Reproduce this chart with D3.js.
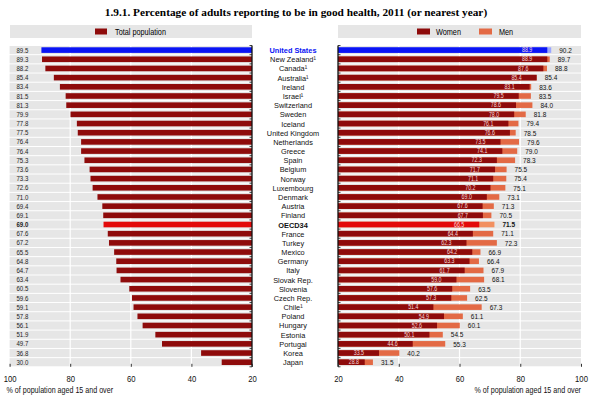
<!DOCTYPE html>
<html>
<head>
<meta charset="utf-8">
<script src="https://cdn.jsdelivr.net/npm/d3@7"></script>
<style>
  body { margin: 0; background: #fff; }
  svg text { font-family: "Liberation Sans", Arial, sans-serif; }
  svg text.title { font-family: "Liberation Serif", "DejaVu Serif", serif; font-weight: bold; }
</style>
</head>
<body>
<script>
// ----- data -----
const countries = ["United States","New Zealand¹","Canada¹","Australia¹","Ireland","Israel¹","Switzerland","Sweden","Iceland","United Kingdom",
  "Netherlands","Greece","Spain","Belgium","Norway","Luxembourg","Denmark","Austria","Finland","OECD34",
  "France","Turkey","Mexico","Germany","Italy","Slovak Rep.","Slovenia","Czech Rep.","Chile¹","Poland",
  "Hungary","Estonia","Portugal","Korea","Japan"];

const totalPop = [89.5,89.3,88.2,85.4,83.4,81.5,81.3,79.9,77.8,77.5,
  76.4,76.4,75.3,73.6,73.3,72.6,71.0,69.4,69.1,69.0,
  67.6,67.2,65.5,64.8,64.7,63.4,60.5,59.6,59.1,57.8,
  56.1,51.9,49.7,36.8,30.0];

const women = [88.9,88.9,87.6,85.4,83.1,79.5,78.6,78.0,76.1,76.6,
  73.5,74.1,72.3,71.7,71.1,70.2,69.0,67.6,67.7,66.5,
  64.4,62.3,64.2,63.3,61.7,59.0,57.6,57.3,51.4,54.9,
  52.6,50.1,44.6,33.5,28.8];

const men = [90.2,89.7,88.8,85.4,83.6,83.5,84.0,81.8,79.4,78.5,
  79.6,79.0,78.3,75.5,75.4,75.1,73.1,71.3,70.5,71.5,
  71.1,72.3,66.9,66.4,67.9,68.1,63.5,62.5,67.3,61.1,
  60.1,54.5,55.3,40.2,31.5];

const xTicks = [100, 80, 60, 40, 20];
const highlightCountry = "United States";
const averageCountry = "OECD34";

const width = 591, height = 398;
const squeeze = 0.81;   // narrow the sans font to look like a condensed face

const data = countries.map((c, i) => ({ name: c, total: totalPop[i], women: women[i], men: men[i] }));

// colours
const darkRed = "#8e0b0b", menColor = "#e36a45";
function womenFill(d) {
    if (d.name === highlightCountry) return "#0a14f5";
    if (d.name === averageCountry) return "#e30a0a";
    return darkRed;
}
function menFill(d) {
    if (d.name === highlightCountry) return "#9aa6ff";
    if (d.name === averageCountry) return "#f29060";
    return menColor;
}

// put a text at (x,y) squeezed horizontally
function at(x, y, s) {
    return "translate(" + x + "," + y + ") scale(" + (s || squeeze) + ",1)";
}

const svg = d3.select("body").append("svg")
    .attr("width", width)
    .attr("height", height);

// scales
const y = d3.scaleBand().domain(countries).range([45.5, 366.8]).paddingInner(0);
const xLeft = d3.scaleLinear().domain([100, 20]).range([9.6, 252]);
const xRight = d3.scaleLinear().domain([20, 100]).range([338, 581]);

// title
svg.append("text")
    .attr("class", "title")
    .attr("x", 296)
    .attr("y", 16)
    .attr("text-anchor", "middle")
    .style("font-size", "11.3px")
    .text("1.9.1.  Percentage of adults reporting to be in good health, 2011 (or nearest year)");

// ----- legends -----
svg.append("rect").attr("x", 10).attr("y", 25).attr("width", 242).attr("height", 13).attr("fill", "#e6e6e6");
svg.append("rect").attr("x", 95).attr("y", 28.5).attr("width", 12).attr("height", 6).attr("fill", darkRed);
svg.append("text").attr("transform", at(115, 34.8)).style("font-size", "9px").text("Total population");

svg.append("rect").attr("x", 338).attr("y", 25).attr("width", 243).attr("height", 13).attr("fill", "#e6e6e6");
svg.append("rect").attr("x", 417).attr("y", 28.5).attr("width", 13).attr("height", 6).attr("fill", darkRed);
svg.append("text").attr("transform", at(436, 34.8)).style("font-size", "9px").text("Women");
svg.append("rect").attr("x", 479).attr("y", 28.5).attr("width", 13).attr("height", 6).attr("fill", menColor);
svg.append("text").attr("transform", at(499, 34.8)).style("font-size", "9px").text("Men");

// ----- row stripes and gridlines -----
function panelBackground(g, x) {
    const [a, b] = x.range();
    g.selectAll(".stripe")
        .data(data)
        .enter()
        .append("rect")
        .attr("class", "stripe")
        .attr("x", Math.min(a, b))
        .attr("y", d => y(d.name) + 0.5)
        .attr("width", Math.abs(b - a))
        .attr("height", y.bandwidth() - 1)
        .attr("fill", "#e6e6e6");

    g.selectAll(".grid")
        .data([80, 60, 40])
        .enter()
        .append("line")
        .attr("x1", d => x(d)).attr("x2", d => x(d))
        .attr("y1", y.range()[0]).attr("y2", y.range()[1])
        .attr("stroke", "#fff")
        .attr("stroke-width", 1.2);
}

const left = svg.append("g");
const right = svg.append("g");
panelBackground(left, xLeft);
panelBackground(right, xRight);

const barH = 5.6;
const barOff = (y.bandwidth() - barH) / 2;
const mid = d => y(d.name) + y.bandwidth() / 2;

// ----- left panel: total population -----
left.selectAll(".totBar")
    .data(data)
    .enter()
    .append("rect")
    .attr("class", "totBar")
    .attr("x", d => xLeft(d.total))
    .attr("y", d => y(d.name) + barOff)
    .attr("width", d => xLeft(20) - xLeft(d.total))
    .attr("height", barH)
    .attr("fill", womenFill);

left.selectAll(".totLabel")
    .data(data)
    .enter()
    .append("text")
    .attr("class", "totLabel")
    .attr("transform", d => at(16.5, mid(d) + 2.6))
    .style("font-size", "7.5px")
    .style("font-weight", d => d.name === averageCountry ? "bold" : "normal")
    .attr("fill", "#222")
    .text(d => d.total.toFixed(1));

// ----- right panel: women / men -----
right.selectAll(".menBar")
    .data(data)
    .enter()
    .append("rect")
    .attr("class", "menBar")
    .attr("x", xRight(20))
    .attr("y", d => y(d.name) + barOff)
    .attr("width", d => xRight(d.men) - xRight(20))
    .attr("height", barH)
    .attr("fill", menFill);

right.selectAll(".womenBar")
    .data(data)
    .enter()
    .append("rect")
    .attr("class", "womenBar")
    .attr("x", xRight(20))
    .attr("y", d => y(d.name) + barOff)
    .attr("width", d => xRight(d.women) - xRight(20))
    .attr("height", barH)
    .attr("fill", womenFill);

right.selectAll(".womenLabel")
    .data(data)
    .enter()
    .append("text")
    .attr("class", "womenLabel")
    .attr("transform", d => at(Math.max(xRight(d.women) - 15, xRight(20) + 21), mid(d) + 2.2))
    .attr("text-anchor", "end")
    .style("font-size", "6.5px")
    .attr("fill", "#f6dada")
    .text(d => d.women.toFixed(1));

right.selectAll(".menLabel")
    .data(data)
    .enter()
    .append("text")
    .attr("class", "menLabel")
    .attr("transform", d => at(Math.max(xRight(d.men), xRight(d.women)) + 8, mid(d) + 2.8))
    .style("font-size", "8px")
    .style("font-weight", d => d.name === averageCountry ? "bold" : "normal")
    .attr("fill", "#111")
    .text(d => d.men.toFixed(1));

// ----- country names -----
svg.selectAll(".country")
    .data(data)
    .enter()
    .append("text")
    .attr("class", "country")
    .attr("transform", d => at(293, mid(d) + 3, 0.91))
    .attr("text-anchor", "middle")
    .style("font-size", "8.1px")
    .style("font-weight", d => (d.name === highlightCountry || d.name === averageCountry) ? "bold" : "normal")
    .attr("fill", d => d.name === highlightCountry ? "#0a14f5" : "#111")
    .text(d => d.name);

// ----- vertical axes with row ticks -----
const rowEdges = data.map(d => y(d.name)).concat([y.range()[1]]);

svg.append("line")
    .attr("x1", xLeft(20)).attr("x2", xLeft(20))
    .attr("y1", y.range()[0]).attr("y2", y.range()[1])
    .attr("stroke", "#111").attr("stroke-width", 1.3);
svg.selectAll(".lt")
    .data(rowEdges)
    .enter()
    .append("line")
    .attr("x1", xLeft(20) - 2.5).attr("x2", xLeft(20))
    .attr("y1", d => d).attr("y2", d => d)
    .attr("stroke", "#111").attr("stroke-width", 0.8);

svg.append("line")
    .attr("x1", xRight(20)).attr("x2", xRight(20))
    .attr("y1", y.range()[0]).attr("y2", y.range()[1])
    .attr("stroke", "#111").attr("stroke-width", 1.3);
svg.selectAll(".rt")
    .data(rowEdges)
    .enter()
    .append("line")
    .attr("x1", xRight(20)).attr("x2", xRight(20) + 2.5)
    .attr("y1", d => d).attr("y2", d => d)
    .attr("stroke", "#111").attr("stroke-width", 0.8);

// ----- bottom axes -----
function bottomAxis(x) {
    const g = svg.append("g")
        .attr("transform", "translate(0," + y.range()[1] + ")")
        .call(d3.axisBottom(x).tickValues(xTicks).tickSize(-3).tickPadding(8).tickFormat(d3.format("d")));
    g.select(".domain").remove();
    g.selectAll(".tick line").attr("stroke", "#333");
    g.selectAll(".tick text")
        .style("font-size", "9.5px")
        .style("font-family", "\"Liberation Sans\", Arial, sans-serif")
        .attr("fill", "#111")
        .attr("transform", "scale(" + squeeze + ",1)");
    return g;
}
bottomAxis(xLeft);
bottomAxis(xRight);

svg.append("text")
    .attr("transform", at(6.5, 393))
    .style("font-size", "8.8px")
    .attr("fill", "#111")
    .text("% of population aged 15 and over");

svg.append("text")
    .attr("transform", at(581, 393))
    .attr("text-anchor", "end")
    .style("font-size", "8.8px")
    .attr("fill", "#111")
    .text("% of population aged 15 and over");
</script>
</body>
</html>
